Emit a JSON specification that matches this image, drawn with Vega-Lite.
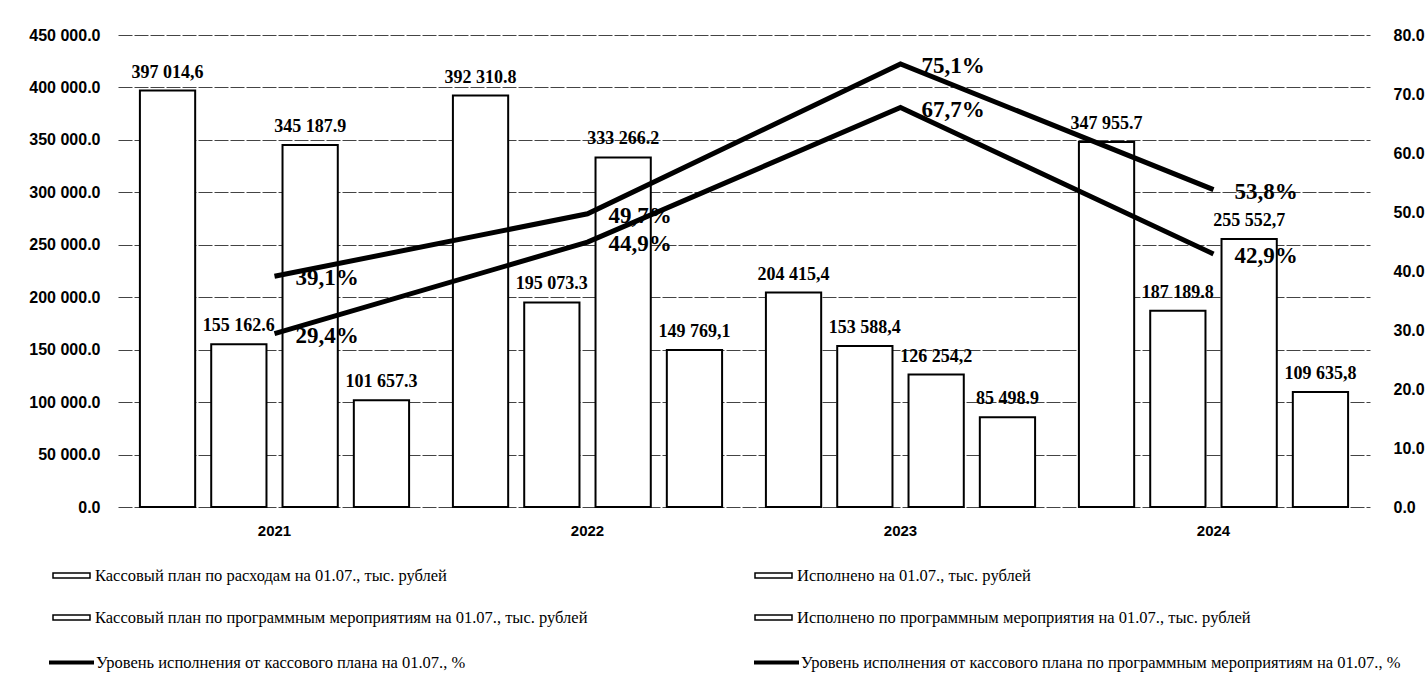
{
  "$schema": "https://vega.github.io/schema/vega-lite/v6.json",
  "autosize": {"type": "none"},
  "padding": {"left": 118, "top": 35, "right": 57, "bottom": 186},
  "width": 1252,
  "height": 472,
  "background": "white",
  "datasets": {
    "bars": [
      {"year": "2021", "series": "Кассовый план по расходам на 01.07., тыс. рублей", "value": 397014.6, "label": "397 014,6"},
      {"year": "2021", "series": "Исполнено на 01.07., тыс. рублей", "value": 155162.6, "label": "155 162.6"},
      {"year": "2021", "series": "Кассовый план по программным мероприятиям на 01.07., тыс. рублей", "value": 345187.9, "label": "345 187.9"},
      {"year": "2021", "series": "Исполнено по программным мероприятия на 01.07., тыс. рублей", "value": 101657.3, "label": "101 657.3"},
      {"year": "2022", "series": "Кассовый план по расходам на 01.07., тыс. рублей", "value": 392310.8, "label": "392 310.8"},
      {"year": "2022", "series": "Исполнено на 01.07., тыс. рублей", "value": 195073.3, "label": "195 073.3"},
      {"year": "2022", "series": "Кассовый план по программным мероприятиям на 01.07., тыс. рублей", "value": 333266.2, "label": "333 266.2"},
      {"year": "2022", "series": "Исполнено по программным мероприятия на 01.07., тыс. рублей", "value": 149769.1, "label": "149 769,1"},
      {"year": "2023", "series": "Кассовый план по расходам на 01.07., тыс. рублей", "value": 204415.4, "label": "204 415,4"},
      {"year": "2023", "series": "Исполнено на 01.07., тыс. рублей", "value": 153588.4, "label": "153 588,4"},
      {"year": "2023", "series": "Кассовый план по программным мероприятиям на 01.07., тыс. рублей", "value": 126254.2, "label": "126 254,2"},
      {"year": "2023", "series": "Исполнено по программным мероприятия на 01.07., тыс. рублей", "value": 85498.9, "label": "85 498.9"},
      {"year": "2024", "series": "Кассовый план по расходам на 01.07., тыс. рублей", "value": 347955.7, "label": "347 955.7"},
      {"year": "2024", "series": "Исполнено на 01.07., тыс. рублей", "value": 187189.8, "label": "187 189.8"},
      {"year": "2024", "series": "Кассовый план по программным мероприятиям на 01.07., тыс. рублей", "value": 255552.7, "label": "255 552,7"},
      {"year": "2024", "series": "Исполнено по программным мероприятия на 01.07., тыс. рублей", "value": 109635.8, "label": "109 635,8"}
    ],
    "rates": [
      {"year": "2021", "rate": "Уровень исполнения  от кассового плана на 01.07., %", "pct": 39.1, "plabel": "39,1%"},
      {"year": "2022", "rate": "Уровень исполнения  от кассового плана на 01.07., %", "pct": 49.7, "plabel": "49,7%"},
      {"year": "2023", "rate": "Уровень исполнения  от кассового плана на 01.07., %", "pct": 75.1, "plabel": "75,1%"},
      {"year": "2024", "rate": "Уровень исполнения  от кассового плана на 01.07., %", "pct": 53.8, "plabel": "53,8%"},
      {"year": "2021", "rate": "Уровень исполнения  от кассового плана по программным мероприятиям на 01.07., %", "pct": 29.4, "plabel": "29,4%"},
      {"year": "2022", "rate": "Уровень исполнения  от кассового плана по программным мероприятиям на 01.07., %", "pct": 44.9, "plabel": "44,9%"},
      {"year": "2023", "rate": "Уровень исполнения  от кассового плана по программным мероприятиям на 01.07., %", "pct": 67.7, "plabel": "67,7%"},
      {"year": "2024", "rate": "Уровень исполнения  от кассового плана по программным мероприятиям на 01.07., %", "pct": 42.9, "plabel": "42,9%"}
    ]
  },
  "layer": [
    {
      "data": {"name": "bars"},
      "encoding": {
        "x": {
          "field": "year", "type": "nominal", "title": null,
          "scale": {"paddingInner": 0.14, "paddingOuter": 0.07},
          "axis": {"labelAngle": 0, "domain": false, "ticks": false, "labelPadding": 16, "labelFont": "Liberation Sans", "labelFontSize": 15, "labelFontWeight": "bold", "labelColor": "black"}
        },
        "xOffset": {
          "field": "series", "type": "nominal",
          "sort": ["Кассовый план по расходам на 01.07., тыс. рублей", "Исполнено на 01.07., тыс. рублей", "Кассовый план по программным мероприятиям на 01.07., тыс. рублей", "Исполнено по программным мероприятия на 01.07., тыс. рублей"],
          "scale": {"paddingInner": 0.225, "paddingOuter": 0}
        },
        "y": {
          "field": "value", "type": "quantitative", "title": null,
          "scale": {"domain": [0, 450000], "nice": false},
          "axis": {"values": [0, 50000, 100000, 150000, 200000, 250000, 300000, 350000, 400000, 450000], "format": ",.1f", "domain": false, "ticks": false, "labelPadding": 18, "labelFont": "Liberation Sans", "labelFontSize": 16, "labelFontWeight": "bold", "labelColor": "black", "grid": true, "gridColor": "#444", "gridWidth": 1, "gridDash": [14, 2]}
        }
      },
      "layer": [
        {
          "mark": {"type": "bar", "fill": "white", "strokeWidth": 2},
          "encoding": {
            "stroke": {
              "field": "series", "type": "nominal", "title": null,
              "scale": {"domain": ["Кассовый план по расходам на 01.07., тыс. рублей", "Кассовый план по программным мероприятиям на 01.07., тыс. рублей", "Исполнено на 01.07., тыс. рублей", "Исполнено по программным мероприятия на 01.07., тыс. рублей"], "range": ["black", "black", "black", "black"]},
              "legend": {
                "orient": "none", "legendX": -66, "legendY": 521, "direction": "vertical", "columns": 2, "columnPadding": 164, "rowPadding": 14, "padding": 0,
                "symbolType": "M-1,-0.14H1V0.14H-1Z", "symbolSize": 1369, "symbolFillColor": "white", "symbolStrokeWidth": 1.5, "labelOffset": 4,
                "labelFont": "Liberation Serif", "labelFontSize": 16.5, "labelColor": "black", "labelLimit": 800
              }
            }
          }
        },
        {
          "mark": {"type": "text", "baseline": "bottom", "dy": -9, "font": "Liberation Serif", "fontSize": 18, "fontWeight": "bold", "color": "black"},
          "encoding": {"text": {"field": "label"}}
        }
      ]
    },
    {
      "data": {"name": "rates"},
      "encoding": {
        "x": {"field": "year", "type": "nominal"},
        "y": {
          "field": "pct", "type": "quantitative", "title": null,
          "scale": {"domain": [0, 80], "nice": false},
          "axis": {"orient": "right", "values": [0, 10, 20, 30, 40, 50, 60, 70, 80], "format": ".1f", "grid": false, "domain": false, "ticks": false, "labelPadding": 23, "labelFont": "Liberation Sans", "labelFontSize": 16, "labelFontWeight": "bold", "labelColor": "black"}
        }
      },
      "layer": [
        {
          "mark": {"type": "line", "strokeWidth": 5},
          "encoding": {
            "color": {
              "field": "rate", "type": "nominal", "title": null,
              "scale": {"domain": ["Уровень исполнения  от кассового плана на 01.07., %", "Уровень исполнения  от кассового плана по программным мероприятиям на 01.07., %"], "range": ["black", "black"]},
              "legend": {
                "orient": "none", "legendX": -71, "legendY": 603, "direction": "vertical", "columns": 2, "columnPadding": 276, "padding": 0,
                "symbolType": "stroke", "symbolSize": 2025, "symbolStrokeWidth": 4, "labelOffset": 0,
                "labelFont": "Liberation Serif", "labelFontSize": 16.5, "labelColor": "black", "labelLimit": 800
              }
            }
          }
        },
        {
          "mark": {"type": "text", "align": "left", "baseline": "middle", "dx": 21, "dy": 2, "font": "Liberation Serif", "fontSize": 23, "fontWeight": "bold", "color": "black"},
          "encoding": {"text": {"field": "plabel"}}
        }
      ]
    }
  ],
  "resolve": {"scale": {"y": "independent"}},
  "config": {
    "view": {"stroke": null},
    "legend": {"labelFont": "Liberation Serif", "labelFontSize": 16.5, "labelColor": "black"},
    "locale": {"number": {"decimal": ".", "thousands": " ", "grouping": [3], "currency": ["", ""]}}
  }
}
